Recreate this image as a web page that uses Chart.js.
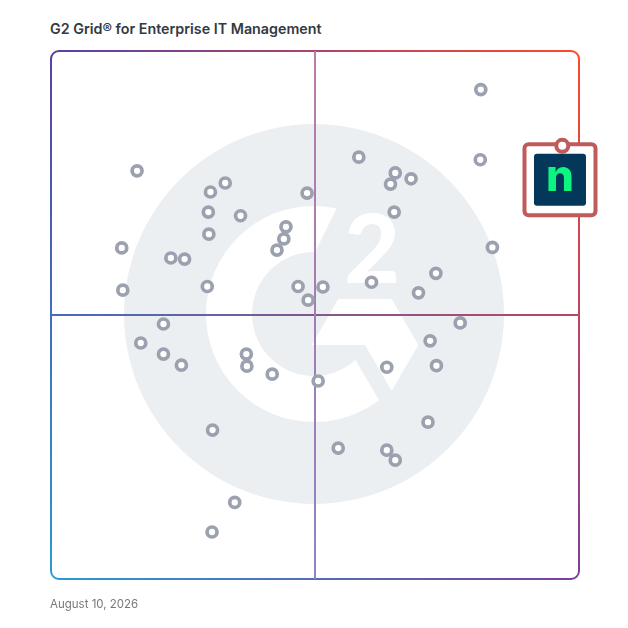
<!DOCTYPE html>
<html>
<head>
<meta charset="utf-8">
<title>G2 Grid</title>
<script src="https://cdn.jsdelivr.net/npm/chart.js@4"></script>
<style>
  html, body { margin: 0; background: #fff; }
  #wrap { position: relative; width: 628px; height: 628px; overflow: hidden; }
  #myChart { position: absolute; left: 0; top: 0; }
  .title { position: absolute; left: 50px; top: 20px; font: 600 14.3px/17px Inter, sans-serif; color: #333a41; white-space: nowrap; }
  .date { position: absolute; left: 50px; top: 597px; font: 400 11.5px/15px Inter, sans-serif; color: #77797d; white-space: nowrap; }
</style>
</head>
<body>
<div id="wrap">
  <div class="title">G2 Grid® for Enterprise IT Management</div>
  <canvas id="myChart" width="628" height="628"></canvas>
  <div class="date">August 10, 2026</div>
</div>
<script>
// satisfaction (x) / market presence (y)
let productX = [81.4,81.3,58.3,65.2,64.3,68.2,65.0,83.6,72.9,69.6,60.7,77.5,71.8,73.0,63.6,71.4,54.4,63.6,65.2,50.6,41.9,37.0,37.1,46.8,51.5,48.7,44.5,44.1,42.8,48.5,33.0,30.2,29.8,35.9,29.9,16.3,13.4,22.7,25.3,29.6,13.6,21.3,17.0,21.3,24.7,30.6,34.8,30.5]
let productY = [92.7,79.4,79.9,76.9,74.8,75.8,69.5,62.8,57.9,54.2,56.2,48.5,45.1,40.4,40.1,29.7,24.8,24.4,22.5,37.5,38.8,42.6,40.3,55.4,55.3,52.8,66.7,64.4,62.3,73.1,75.0,73.3,69.5,68.8,65.3,77.3,62.7,60.8,60.6,55.4,54.7,48.3,44.7,42.6,40.5,28.2,14.5,8.9]
let highlightX = [96.4]
let highlightY = [75.6]
let axisMin = 0
let axisMax = 100
let quadrantSplit = 50

// corner colours of the frame, blended across the whole square
function frameGradient(chart){
    let a = chart.chartArea
    let c = document.createElement("canvas")
    c.width = chart.width
    c.height = chart.height
    let g = c.getContext("2d")
    let img = g.createImageData(c.width, c.height)
    let tl = [90,63,168], tr = [255,74,43], bl = [42,154,214], br = [125,63,152]
    for(let y=0;y<c.height;y++){
        let v = Math.min(1,Math.max(0,(y-a.top)/a.height))
        for(let x=0;x<c.width;x++){
            let u = Math.min(1,Math.max(0,(x-a.left)/a.width))
            let i = (y*c.width+x)*4
            for(let k=0;k<3;k++){
                img.data[i+k] = (tl[k]*(1-u)+tr[k]*u)*(1-v)+(bl[k]*(1-u)+br[k]*u)*v
            }
            img.data[i+3] = 255
        }
    }
    g.putImageData(img,0,0)
    return chart.ctx.createPattern(c,"no-repeat")
}

function drawLogo(ctx){
    let cx = 314, cy = 314
    ctx.fillStyle = "#eceff2"
    ctx.beginPath()
    ctx.arc(cx,cy,190,0,Math.PI*2)
    ctx.fill()
    ctx.fillStyle = "#ffffff"
    // the G
    ctx.beginPath()
    ctx.arc(cx,cy,108,-77.9*Math.PI/180,53*Math.PI/180,true)
    ctx.arc(cx,cy,62,48*Math.PI/180,-89*Math.PI/180,false)
    ctx.closePath()
    ctx.fill()
    // the arrow
    ctx.beginPath()
    ctx.moveTo(338.3,299)
    ctx.lineTo(391.7,299)
    ctx.lineTo(418.3,345)
    ctx.lineTo(391.7,390.7)
    ctx.lineTo(365,345)
    ctx.lineTo(311.7,345)
    ctx.closePath()
    ctx.fill()
    ctx.font = "900 96px Lato, sans-serif"
    ctx.textAlign = "center"
    ctx.textBaseline = "alphabetic"
    ctx.fillText("2",372,283)
}

let gridBackground = {
    id: "gridBackground",
    beforeDatasetsDraw(chart){
        let ctx = chart.ctx
        let a = chart.chartArea
        let midX = chart.scales.x.getPixelForValue(quadrantSplit)
        let midY = chart.scales.y.getPixelForValue(quadrantSplit)
        ctx.save()
        drawLogo(ctx)
        let pattern = frameGradient(chart)
        ctx.strokeStyle = pattern
        ctx.lineWidth = 2
        ctx.beginPath()
        ctx.roundRect(a.left,a.top,a.width,a.height,8)
        ctx.stroke()
        ctx.beginPath()
        ctx.moveTo(a.left,midY)
        ctx.lineTo(a.right,midY)
        ctx.stroke()
        let vertical = ctx.createLinearGradient(0,a.top,0,a.bottom)
        vertical.addColorStop(0,"#bb7ea6")
        vertical.addColorStop(0.5,"#a37cb4")
        vertical.addColorStop(1,"#8f84c4")
        ctx.strokeStyle = vertical
        ctx.beginPath()
        ctx.moveTo(midX,a.top)
        ctx.lineTo(midX,a.bottom)
        ctx.stroke()
        ctx.restore()
    }
}

// highlighted product tile, placed from its data point
let highlightTile = {
    id: "highlightTile",
    afterDatasetsDraw(chart){
        let p = chart.getDatasetMeta(1).data[0]
        let ctx = chart.ctx
        let x = p.x, y = p.y
        ctx.save()
        ctx.strokeStyle = "#bf5b5b"
        ctx.fillStyle = "#ffffff"
        ctx.lineWidth = 4
        ctx.beginPath()
        ctx.roundRect(x-35.5,y-35.5,71,71,4)
        ctx.fill()
        ctx.stroke()
        ctx.beginPath()
        ctx.arc(x+2.3,y-34,6,0,Math.PI*2)
        ctx.fill()
        ctx.stroke()
        ctx.fillStyle = "#03385a"
        ctx.beginPath()
        ctx.roundRect(x-26,y-26,52,52,3)
        ctx.fill()
        ctx.fillStyle = "#0cf57f"
        ctx.font = "800 44px Inter, sans-serif"
        ctx.textAlign = "center"
        ctx.textBaseline = "alphabetic"
        ctx.fillText("n",x,y+11)
        ctx.restore()
    }
}

let gridObject = new Chart($("myChart"), {
    type: "scatter",
    data: {
        datasets: [
            {
                label: "Products",
                data: productX.map((x,i)=>({x:x,y:productY[i]})),
                pointRadius: 5,
                pointHoverRadius: 5,
                borderWidth: 3.7,
                borderColor: "#9ca1b0",
                backgroundColor: "#ffffff"
            },
            {
                label: "Highlighted product",
                data: highlightX.map((x,i)=>({x:x,y:highlightY[i]})),
                pointRadius: 0
            }
        ]
    },
    options: {
        responsive: false,
        animation: false,
        layout: { padding: { left: 51, top: 51, right: 49, bottom: 49 } },
        plugins: {
            legend: { display: false },
            tooltip: { enabled: false }
        },
        scales: {
            x: { type: "linear", display: false, min: axisMin, max: axisMax },
            y: { type: "linear", display: false, min: axisMin, max: axisMax }
        }
    },
    plugins: [gridBackground, highlightTile]
})

function $(id){
    return document.getElementById(id)
}
</script>
</body>
</html>
